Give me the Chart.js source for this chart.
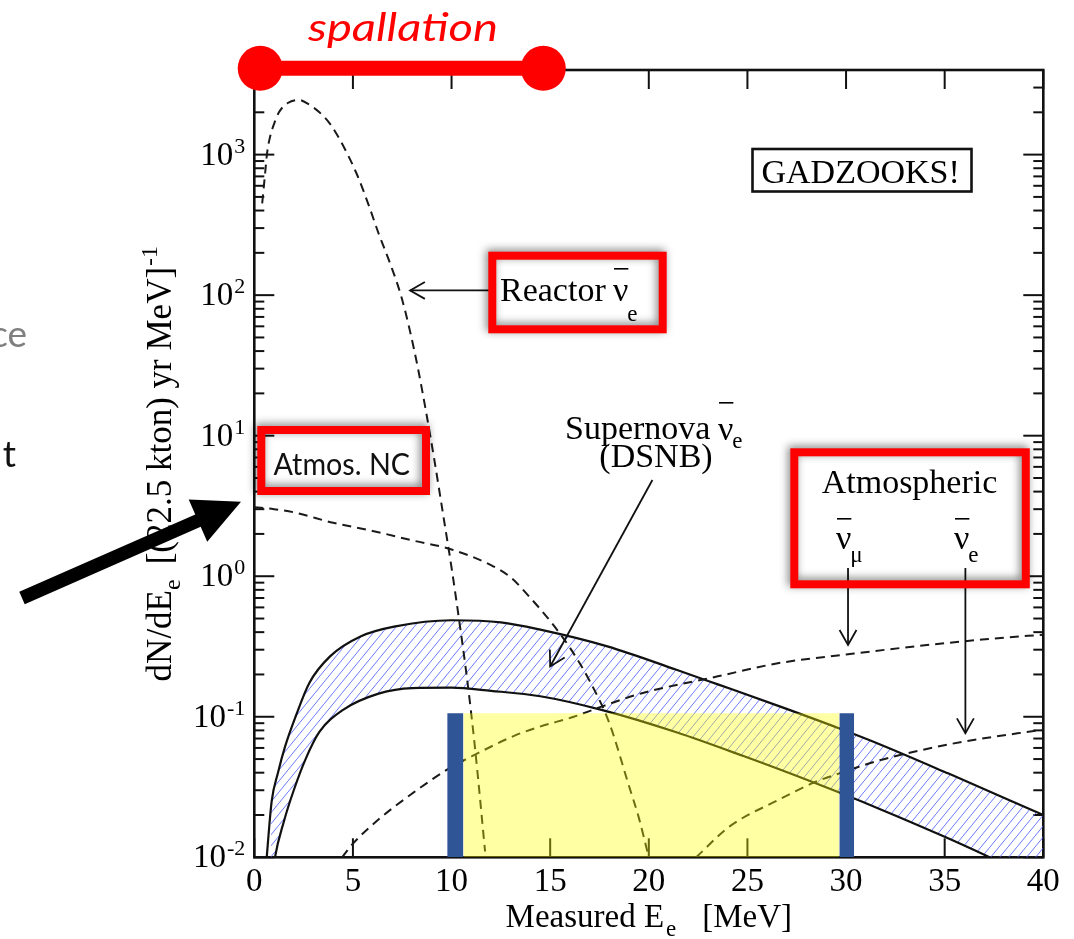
<!DOCTYPE html>
<html>
<head>
<meta charset="utf-8">
<script src="https://cdn.jsdelivr.net/npm/chart.js@4.4.1/dist/chart.umd.min.js"></script>
<style>
  html, body { margin: 0; padding: 0; background: #fff; }
  canvas { display: block; }
</style>
</head>
<body>
<canvas id="myChart" width="1074" height="939"></canvas>
<script>
// spectra: measured positron energy [MeV] vs dN/dE [(22.5 kton) yr MeV]^-1
const reactorE = [0.4, 0.55, 0.65, 0.8, 1.0, 1.25, 1.7, 2.25, 2.8, 3.3, 3.85, 4.5, 5.2, 5.8, 6.3, 6.9, 7.45, 7.9, 8.3, 8.7, 9.1, 9.6, 10.0, 10.4, 10.8, 11.2, 11.7]
const reactorN = [450, 740, 1030, 1340, 1650, 2000, 2330, 2450, 2260, 2000, 1650, 1160, 725, 437, 275, 166, 98, 55, 30, 15, 7.1, 2.6, 1.15, 0.47, 0.18, 0.058, 0.011]

const ncE = [0, 1, 2, 4, 6, 8, 10, 12, 13, 14, 15, 16, 17, 18, 19, 19.5, 20]
const ncN = [3.1, 3.0, 2.85, 2.4, 2.1, 1.8, 1.55, 1.2, 0.98, 0.7, 0.48, 0.31, 0.18, 0.09, 0.032, 0.019, 0.01]

// DSNB band, upper and lower edge
const dsnbHiE = [0.5, 0.63, 0.88, 1.2, 1.57, 2.09, 2.79, 3.84, 5.41, 7.16, 10.0, 12.5, 14.5, 17.9, 21.4, 23.5, 26.6, 29.7, 31.7, 35.2, 40]
const dsnbHiN = [0.006, 0.01, 0.025, 0.04, 0.062, 0.1, 0.174, 0.269, 0.374, 0.44, 0.486, 0.47, 0.417, 0.317, 0.216, 0.17, 0.119, 0.0822, 0.0638, 0.0394, 0.020]
const dsnbLoE = [0.85, 1.05, 1.5, 2.0, 2.6, 3.3, 4.5, 6.3, 8.0, 10.0, 12.0, 14.5, 17.6, 21.4, 24.8, 28.3, 31.7, 35.0, 36.9, 40]
const dsnbLoN = [0.006, 0.01, 0.018, 0.03, 0.05, 0.078, 0.112, 0.146, 0.16, 0.161, 0.153, 0.14, 0.112, 0.0776, 0.0525, 0.0343, 0.0221, 0.014, 0.0106, 0.0066]

// atmospheric anti-nu_mu (invisible muon) and anti-nu_e
const atmMuE = [4.45, 5.0, 6.28, 8.03, 9.77, 11.17, 13.26, 14.47, 16.2, 17.6, 19.65, 23.5, 26.6, 30, 33.5, 36.9, 40]
const atmMuN = [0.01, 0.0125, 0.0185, 0.0286, 0.042, 0.0536, 0.074, 0.085, 0.1, 0.118, 0.147, 0.194, 0.241, 0.277, 0.317, 0.354, 0.384]
const atmEE = [22.4, 24.1, 26.6, 28.3, 29.7, 31.7, 33.5, 36, 40]
const atmEN = [0.01, 0.0166, 0.0257, 0.0337, 0.0397, 0.049, 0.0566, 0.0667, 0.081]

// analysis window and its edges
const winEdgeLo = [9.78, 10.6]
const winEdgeHi = [29.66, 30.41]
const winTop = 0.106

// spallation range drawn over the top axis
const spallation = [0.3, 14.65]

const xTicks = [0, 5, 10, 15, 20, 25, 30, 35, 40]
const yDecades = [-2, -1, 0, 1, 2, 3]
const xMin = 0, xMax = 40, yMin = 0.01, yMax = 4000

const pts = (xs, ys) => xs.map((x, i) => ({ x: x, y: ys[i] }))

// hatch for the DSNB band
function makeHatch() {
  const c = document.createElement('canvas')
  c.width = 9
  c.height = 11
  const g = c.getContext('2d')
  g.strokeStyle = 'rgba(80, 100, 255, 0.85)'
  g.lineWidth = 1
  g.beginPath()
  g.moveTo(-1, 12.22); g.lineTo(10, -1.22)
  g.stroke()
  return g.createPattern(c, 'repeat')
}

const serif = '"Liberation Serif", "Times New Roman", serif'
const sans = 'Lato, "Open Sans", sans-serif'

function strokeLine(ctx, x0, y0, x1, y1) {
  ctx.beginPath()
  ctx.moveTo(x0, y0)
  ctx.lineTo(x1, y1)
  ctx.stroke()
}

function pointer(ctx, x0, y0, x1, y1) {
  strokeLine(ctx, x0, y0, x1, y1)
  const ang = Math.atan2(y1 - y0, x1 - x0)
  const len = 17, spread = 0.52
  ctx.beginPath()
  ctx.moveTo(x1 - len * Math.cos(ang - spread), y1 - len * Math.sin(ang - spread))
  ctx.lineTo(x1, y1)
  ctx.lineTo(x1 - len * Math.cos(ang + spread), y1 - len * Math.sin(ang + spread))
  ctx.stroke()
}

// nu with an overbar and a subscript
function nuBar(ctx, x, y, size, sub, subDrop, barRise) {
  ctx.font = size + 'px ' + serif
  ctx.textAlign = 'left'
  ctx.fillText('\u03BD', x, y)
  const w = ctx.measureText('\u03BD').width
  ctx.fillRect(x + 1, y - barRise, w - 1, 1.6)
  ctx.font = Math.round(size * 0.68) + 'px ' + serif
  ctx.fillText(sub, x + w - 1, y + subDrop)
}

// text squeezed or stretched to a given width
function fitText(ctx, text, x, y, width) {
  const w = ctx.measureText(text).width
  ctx.save()
  ctx.translate(x, y)
  ctx.scale(width / w, 1)
  ctx.textAlign = 'left'
  ctx.fillText(text, 0, 0)
  ctx.restore()
}

function redBox(ctx, x0, y0, x1, y1) {
  ctx.save()
  ctx.strokeStyle = '#ff0000'
  ctx.lineWidth = 8
  ctx.shadowColor = 'rgba(0, 0, 0, 0.5)'
  ctx.shadowBlur = 8
  ctx.shadowOffsetX = -2
  ctx.shadowOffsetY = -2
  ctx.strokeRect(x0 + 4, y0 + 4, x1 - x0 - 8, y1 - y0 - 8)
  ctx.restore()
}

function drawFrame(chart) {
  const ctx = chart.ctx
  const a = chart.chartArea
  const xs = chart.scales.x, ys = chart.scales.y
  ctx.save()
  ctx.strokeStyle = '#111'
  ctx.lineWidth = 2
  xTicks.forEach(v => {
    const px = xs.getPixelForValue(v)
    strokeLine(ctx, px, a.bottom, px, a.bottom - 19)
    strokeLine(ctx, px, a.top, px, a.top + 19)
  })
  yDecades.forEach(d => {
    for (let m = 1; m <= 9; m++) {
      const v = m * Math.pow(10, d)
      if (v >= yMax) continue
      const py = ys.getPixelForValue(v)
      const len = m === 1 ? 20 : 10
      strokeLine(ctx, a.left, py, a.left + len, py)
      strokeLine(ctx, a.right, py, a.right - len, py)
    }
  })
  ctx.lineWidth = 2.6
  ctx.strokeRect(a.left, a.top, a.right - a.left, a.bottom - a.top)
  ctx.restore()
}

function drawAxisText(chart) {
  const ctx = chart.ctx
  const a = chart.chartArea
  const xs = chart.scales.x, ys = chart.scales.y
  ctx.save()
  ctx.fillStyle = '#000'

  // x tick labels
  ctx.font = '33px ' + serif
  ctx.textAlign = 'center'
  ctx.textBaseline = 'alphabetic'
  xTicks.forEach(v => ctx.fillText(String(v), xs.getPixelForValue(v), a.bottom + 33.4))

  // y tick labels 10^n
  yDecades.forEach(d => {
    const py = ys.getPixelForValue(Math.pow(10, d))
    const right = a.left - 9
    ctx.font = '22px ' + serif
    ctx.textAlign = 'right'
    const sw = ctx.measureText(String(d)).width
    ctx.fillText(String(d), right, py - 2)
    ctx.font = '33px ' + serif
    ctx.fillText('10', right - sw - 1, py + 10)
  })

  // x title
  ctx.textAlign = 'left'
  ctx.font = '33px ' + serif
  const w1 = ctx.measureText('Measured E').width
  const w3 = ctx.measureText('[MeV]').width
  ctx.font = '23px ' + serif
  const w2 = ctx.measureText('e').width
  const gap = 26
  let x = (a.left + a.right) / 2 - (w1 + 2 + w2 + gap + w3) / 2
  const yb = a.bottom + 69.4
  ctx.font = '33px ' + serif
  ctx.fillText('Measured E', x, yb)
  ctx.font = '23px ' + serif
  ctx.fillText('e', x + w1 + 2, yb + 9)
  ctx.font = '33px ' + serif
  ctx.fillText('[MeV]', x + w1 + 2 + w2 + gap, yb)

  // y title, rotated
  ctx.save()
  const big = '35px ' + serif, small = '24px ' + serif
  ctx.font = big
  const t1 = ctx.measureText('dN/dE').width
  const t3 = ctx.measureText('[(22.5 kton) yr MeV]').width
  ctx.font = small
  const t2 = ctx.measureText('e').width
  const t4 = ctx.measureText('-1').width
  const g2 = 15
  const len = t1 + t2 + g2 + t3 + t4 + 1
  ctx.translate(171, (a.top + a.bottom) / 2 + len / 2)
  ctx.rotate(-Math.PI / 2)
  ctx.font = big
  ctx.fillText('dN/dE', 0, 0)
  ctx.font = small
  ctx.fillText('e', t1, 9)
  ctx.font = big
  ctx.fillText('[(22.5 kton) yr MeV]', t1 + t2 + g2, 0)
  ctx.font = small
  ctx.fillText('-1', t1 + t2 + g2 + t3 + 1, -14)
  ctx.restore()
  ctx.restore()
}

function drawNotes(chart) {
  const ctx = chart.ctx
  const xs = chart.scales.x, ys = chart.scales.y
  const X = v => xs.getPixelForValue(v)
  const Y = v => ys.getPixelForValue(v)
  ctx.save()
  ctx.fillStyle = '#000'
  ctx.strokeStyle = '#111'
  ctx.textBaseline = 'alphabetic'

  // GADZOOKS! box
  ctx.lineWidth = 2.6
  ctx.strokeRect(752.5, 149, 219, 42.5)
  ctx.font = '34px ' + serif
  ctx.textAlign = 'left'
  ctx.fillText('GADZOOKS!', 761.5, 182.7)

  // reactor label and pointer
  ctx.lineWidth = 1.8
  ctx.font = '34px ' + serif
  ctx.fillText('Reactor', 500, 301)
  nuBar(ctx, 613, 301, 34, 'e', 20, 33)
  pointer(ctx, 490, Y(108), X(7.9), Y(108))

  // supernova label and pointer
  ctx.font = '34px ' + serif
  ctx.fillText('Supernova', 565, 439)
  nuBar(ctx, 718, 440, 34, 'e', 8, 38)
  ctx.font = '34px ' + serif
  ctx.textAlign = 'center'
  ctx.fillText('(DSNB)', 656, 467)
  pointer(ctx, 652.4, 480, X(15.0), Y(0.228))

  // atmospheric labels and pointers
  ctx.font = '34px ' + serif
  ctx.textAlign = 'center'
  ctx.fillText('Atmospheric', 909.5, 493)
  nuBar(ctx, 836, 549, 34, '\u03BC', 13, 31)
  nuBar(ctx, 954, 549, 34, 'e', 13, 31)
  pointer(ctx, X(30.1), 568, X(30.1), Y(0.325))
  pointer(ctx, X(36.05), 568, X(36.05), Y(0.0765))
  ctx.restore()
}

function drawSlideMarks(chart) {
  const ctx = chart.ctx
  const a = chart.chartArea
  const xs = chart.scales.x
  ctx.save()

  // red outlines
  redBox(ctx, 488.3, 251.7, 666.7, 333.3)
  redBox(ctx, 257.3, 426, 430, 495)
  redBox(ctx, 790.3, 448.3, 1029.8, 588.3)

  ctx.fillStyle = '#111'
  ctx.font = '30px ' + sans
  fitText(ctx, 'Atmos. NC', 273.5, 475, 136.5)

  // spallation bar
  const s0 = xs.getPixelForValue(spallation[0])
  const s1 = xs.getPixelForValue(spallation[1])
  const sy = a.top - 1.7
  ctx.strokeStyle = '#ff0000'
  ctx.fillStyle = '#ff0000'
  ctx.lineWidth = 15
  strokeLine(ctx, s0, sy, s1, sy)
  ctx.beginPath(); ctx.arc(s0, sy, 22.5, 0, Math.PI * 2); ctx.fill()
  ctx.beginPath(); ctx.arc(s1, sy, 22.5, 0, Math.PI * 2); ctx.fill()
  ctx.font = 'italic 39px ' + sans
  fitText(ctx, 'spallation', 308, 41, 190)

  // big black arrow
  ctx.fillStyle = '#000'
  const x0 = 22, y0 = 598, x1 = 241, y1 = 501.7
  const ang = Math.atan2(y1 - y0, x1 - x0)
  const L = Math.hypot(x1 - x0, y1 - y0)
  const shaft = 13.5, headLen = 47, headHalf = 23
  ctx.save()
  ctx.translate(x0, y0)
  ctx.rotate(ang)
  ctx.beginPath()
  ctx.moveTo(0, -shaft / 2)
  ctx.lineTo(L - headLen, -shaft / 2)
  ctx.lineTo(L - headLen, -headHalf)
  ctx.lineTo(L, 0)
  ctx.lineTo(L - headLen, headHalf)
  ctx.lineTo(L - headLen, shaft / 2)
  ctx.lineTo(0, shaft / 2)
  ctx.closePath()
  ctx.fill()
  ctx.restore()

  // slide text cut off at the left edge
  ctx.textAlign = 'right'
  ctx.font = '37px ' + sans
  ctx.fillStyle = '#7f7f7f'
  ctx.fillText('ce', 27, 347)
  ctx.fillStyle = '#111'
  ctx.fillText('t', 16, 467)
  ctx.restore()
}

const axesPlugin = {
  id: 'axesPlugin',
  beforeDatasetsDraw(chart) { drawFrame(chart) },
  afterDraw(chart) {
    drawAxisText(chart)
    drawNotes(chart)
    drawSlideMarks(chart)
  }
}

const dashed = { borderDash: [9, 6], borderWidth: 2, borderColor: '#1a1a1a' }
const flat = { pointRadius: 0, fill: false, cubicInterpolationMode: 'monotone' }

const data = {
  datasets: [
    { label: 'window edge lo', data: pts(winEdgeLo, [winTop, winTop]), pointRadius: 0, borderWidth: 0, fill: 'start', backgroundColor: '#2f5597' },
    { label: 'window edge hi', data: pts(winEdgeHi, [winTop, winTop]), pointRadius: 0, borderWidth: 0, fill: 'start', backgroundColor: '#2f5597' },
    { label: 'window', data: pts([winEdgeLo[1], winEdgeHi[0]], [winTop, winTop]), pointRadius: 0, borderWidth: 0, fill: 'start', backgroundColor: 'rgba(255, 255, 0, 0.36)' },
    { label: 'Atmospheric nu_e', data: pts(atmEE, atmEN), ...flat, ...dashed },
    { label: 'Atmospheric nu_mu', data: pts(atmMuE, atmMuN), ...flat, ...dashed },
    { label: 'Atmos. NC', data: pts(ncE, ncN), ...flat, ...dashed },
    { label: 'Reactor', data: pts(reactorE, reactorN), ...flat, ...dashed },
    { label: 'DSNB low', data: pts(dsnbLoE, dsnbLoN), ...flat, borderWidth: 2.2, borderColor: '#111' },
    { label: 'DSNB high', data: pts(dsnbHiE, dsnbHiN), ...flat, borderWidth: 2.2, borderColor: '#111', fill: '-1', backgroundColor: makeHatch() }
  ]
}

const config = {
  type: 'line',
  data,
  options: {
    responsive: false,
    animation: false,
    devicePixelRatio: 1,
    layout: { padding: { left: 254.3, right: 30.7, top: 70, bottom: 81.7 } },
    plugins: { legend: { display: false }, tooltip: { enabled: false } },
    scales: {
      x: { type: 'linear', min: xMin, max: xMax, display: false },
      y: { type: 'logarithmic', min: yMin, max: yMax, display: false }
    }
  },
  plugins: [axesPlugin]
}

const myChart = new Chart(document.getElementById('myChart'), config)
</script>
</body>
</html>
